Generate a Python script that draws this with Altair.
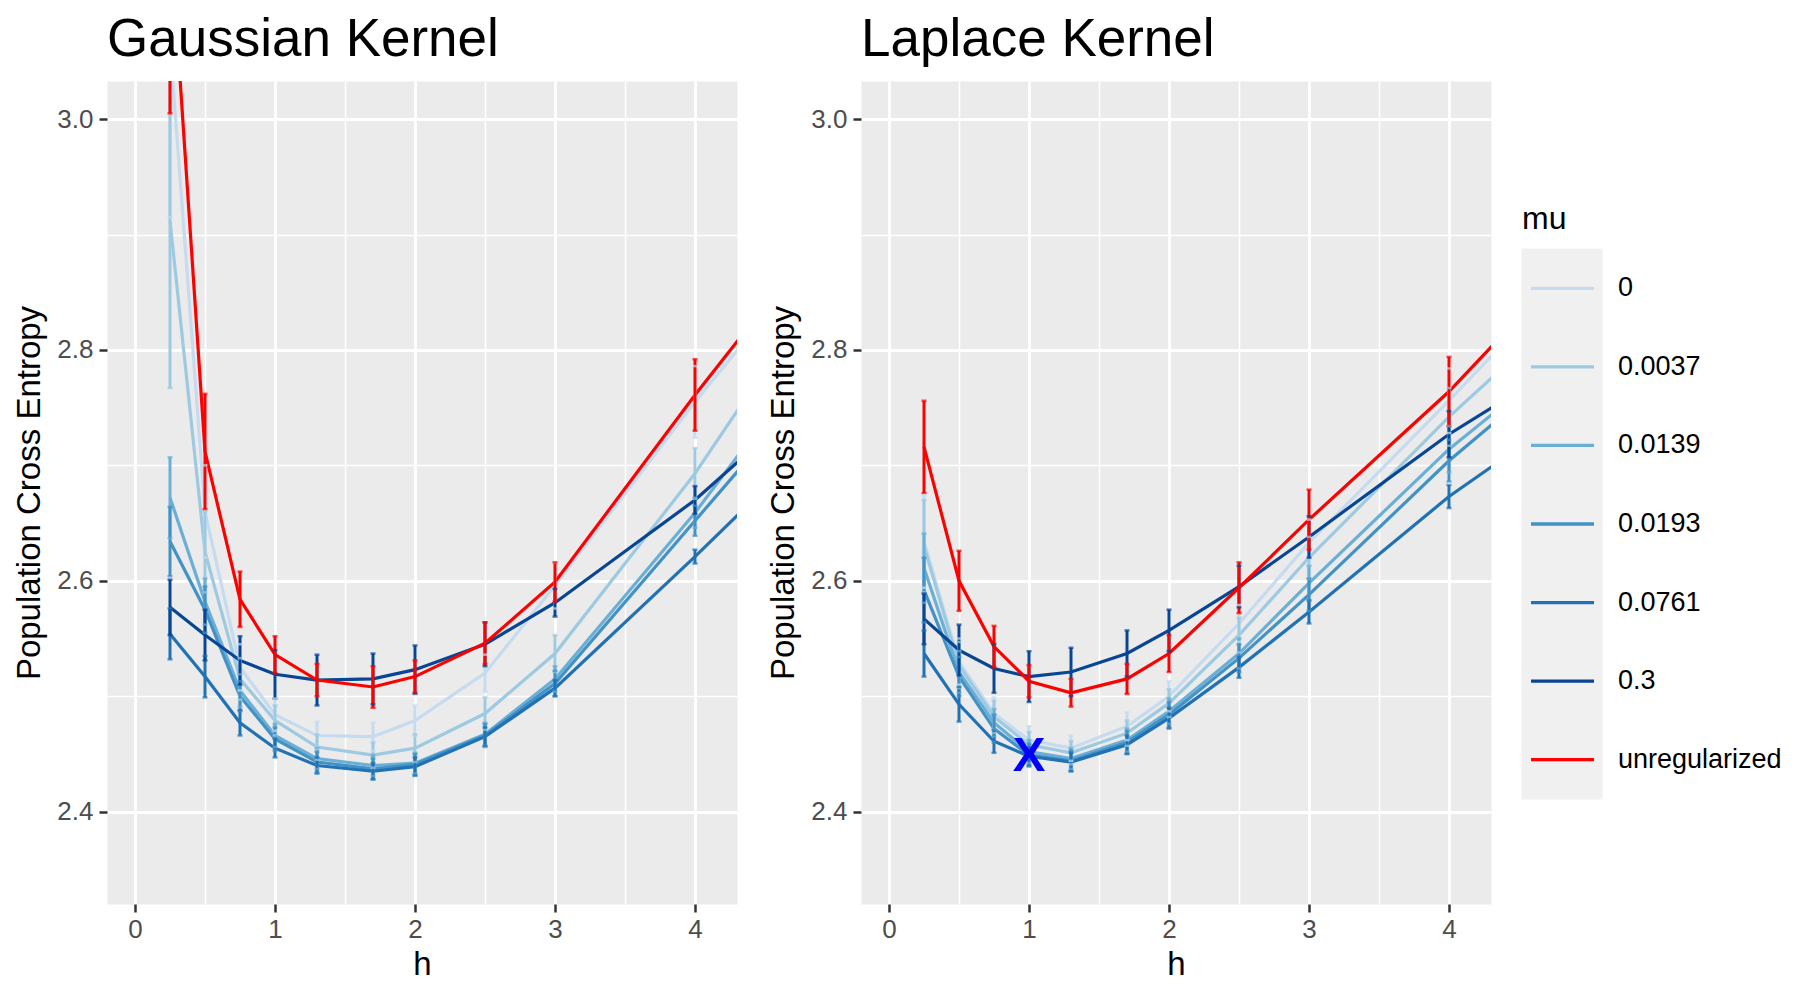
import altair as alt
import pandas as pd

# ---------------- data ----------------
H = [0.25, 0.5, 0.75, 1.0, 1.3, 1.7, 2.0, 2.5, 3.0, 4.0, 5.0]
MU = ["0", "0.0037", "0.0139", "0.0193", "0.0761", "0.3", "unregularized"]
COLORS = ["#c6dbef", "#9ecae1", "#6baed6", "#4292c6", "#2171b5", "#084594", "#ff0000"]

# Gaussian kernel: mean cross entropy per h
g_0 = [3.065, 2.660, 2.525, 2.484, 2.466, 2.465, 2.479, 2.520, 2.596, 2.755, 2.903]
g_0037 = [2.912, 2.625, 2.515, 2.479, 2.456, 2.449, 2.455, 2.485, 2.537, 2.693, 2.873]
g_0139 = [2.672, 2.582, 2.505, 2.466, 2.446, 2.440, 2.442, 2.467, 2.515, 2.659, 2.820]
g_0193 = [2.634, 2.575, 2.500, 2.463, 2.443, 2.437, 2.441, 2.466, 2.511, 2.652, 2.793]
g_0761 = [2.554, 2.517, 2.477, 2.455, 2.440, 2.435, 2.439, 2.465, 2.507, 2.621, 2.739]
g_3 = [2.577, 2.553, 2.531, 2.519, 2.514, 2.515, 2.523, 2.545, 2.581, 2.670, 2.778]
g_unreg = [3.165, 2.712, 2.584, 2.536, 2.514, 2.508, 2.517, 2.546, 2.599, 2.761, 2.915]

# Gaussian kernel: error bar half widths
ge_0 = [0.150, 0.040, 0.020, 0.014, 0.012, 0.012, 0.013, 0.016, 0.020, 0.031, 0.040]
ge_0037 = [0.145, 0.035, 0.018, 0.013, 0.011, 0.011, 0.012, 0.014, 0.016, 0.022, 0.035]
ge_0139 = [0.035, 0.020, 0.014, 0.010, 0.009, 0.009, 0.009, 0.010, 0.011, 0.013, 0.020]
ge_0193 = [0.030, 0.020, 0.013, 0.010, 0.009, 0.009, 0.009, 0.010, 0.011, 0.013, 0.018]
ge_0761 = [0.022, 0.018, 0.011, 0.008, 0.007, 0.007, 0.008, 0.008, 0.007, 0.006, 0.010]
ge_3 = [0.024, 0.022, 0.021, 0.021, 0.022, 0.022, 0.021, 0.019, 0.012, 0.012, 0.015]
ge_unreg = [0.160, 0.050, 0.024, 0.016, 0.014, 0.018, 0.014, 0.018, 0.017, 0.031, 0.040]

# Laplace kernel: mean cross entropy per h
l_0 = [2.634, 2.530, 2.485, 2.462, 2.455, 2.474, 2.500, 2.563, 2.633, 2.756, 2.884]
l_0037 = [2.630, 2.527, 2.482, 2.458, 2.451, 2.468, 2.494, 2.553, 2.620, 2.742, 2.853]
l_0139 = [2.611, 2.521, 2.477, 2.452, 2.446, 2.462, 2.487, 2.537, 2.598, 2.714, 2.812]
l_0193 = [2.592, 2.517, 2.472, 2.449, 2.444, 2.460, 2.484, 2.533, 2.588, 2.704, 2.806]
l_0761 = [2.537, 2.493, 2.461, 2.448, 2.443, 2.458, 2.481, 2.525, 2.573, 2.673, 2.758]
l_3 = [2.567, 2.540, 2.524, 2.517, 2.521, 2.537, 2.557, 2.595, 2.638, 2.727, 2.802]
l_unreg = [2.716, 2.600, 2.543, 2.513, 2.503, 2.515, 2.537, 2.594, 2.653, 2.764, 2.892]

# Laplace kernel: error bar half widths
le_0 = [0.040, 0.020, 0.014, 0.012, 0.011, 0.012, 0.013, 0.016, 0.020, 0.028, 0.035]
le_0037 = [0.040, 0.020, 0.014, 0.011, 0.010, 0.011, 0.012, 0.015, 0.018, 0.025, 0.030]
le_0139 = [0.030, 0.018, 0.012, 0.010, 0.009, 0.010, 0.011, 0.013, 0.015, 0.020, 0.025]
le_0193 = [0.028, 0.017, 0.012, 0.010, 0.009, 0.010, 0.011, 0.012, 0.014, 0.018, 0.022]
le_0761 = [0.020, 0.015, 0.010, 0.008, 0.008, 0.008, 0.009, 0.009, 0.010, 0.010, 0.012]
le_3 = [0.022, 0.022, 0.021, 0.022, 0.021, 0.020, 0.018, 0.018, 0.018, 0.020, 0.022]
le_unreg = [0.040, 0.026, 0.018, 0.014, 0.012, 0.013, 0.016, 0.022, 0.026, 0.030, 0.035]

# marker on the Laplace panel
marker_h = [1.0]
marker_v = [2.448]
marker_label = ["X"]

X_TICKS = [0, 0.5, 1, 1.5, 2, 2.5, 3, 3.5, 4]
Y_TICKS = [2.4, 2.5, 2.6, 2.7, 2.8, 2.9, 3.0]

FONT = "Liberation Sans"


def build(means, errs):
    rows = []
    for mu, m, e in zip(MU, means, errs):
        for h, v, s in zip(H, m, e):
            rows.append({"mu": mu, "h": h, "v": v, "lo": v - s, "hi": v + s})
    return pd.DataFrame(rows)


gauss_df = build([g_0, g_0037, g_0139, g_0193, g_0761, g_3, g_unreg],
                 [ge_0, ge_0037, ge_0139, ge_0193, ge_0761, ge_3, ge_unreg])
lap_df = build([l_0, l_0037, l_0139, l_0193, l_0761, l_3, l_unreg],
               [le_0, le_0037, le_0139, le_0193, le_0761, le_3, le_unreg])
marker_df = pd.DataFrame({"h": marker_h, "v": marker_v, "t": marker_label})

x_major = "datum.value % 1 === 0"
y_major = "round(datum.value * 10) % 2 === 0"

x_axis = alt.Axis(
    values=X_TICKS,
    format="~g",
    labelExpr=f"{x_major} ? datum.label : ''",
    grid=True,
    gridColor="#ffffff",
    gridWidth={"condition": {"test": x_major, "value": 2.8}, "value": 1.5},
    tickSize=8,
    tickWidth=2.5,
    tickColor="#333333",
    tickOpacity={"condition": {"test": x_major, "value": 1}, "value": 0},
    domain=False,
    labelFontSize=26,
    labelColor="#4d4d4d",
    labelPadding=4,
    labelFlush=False,
    titleFontSize=33,
    titleFontWeight="normal",
    titleColor="#000000",
    titlePadding=6,
)

y_axis = alt.Axis(
    values=Y_TICKS,
    format=".1f",
    labelExpr=f"{y_major} ? datum.label : ''",
    grid=True,
    gridColor="#ffffff",
    gridWidth={"condition": {"test": y_major, "value": 2.8}, "value": 1.5},
    tickSize=8,
    tickWidth=2.5,
    tickColor="#333333",
    tickOpacity={"condition": {"test": y_major, "value": 1}, "value": 0},
    domain=False,
    labelFontSize=26,
    labelColor="#4d4d4d",
    labelPadding=6,
    labelFlush=False,
    titleFontSize=33,
    titleFontWeight="normal",
    titleColor="#000000",
    titlePadding=10,
)

x_scale = alt.Scale(domain=[-0.2, 4.3], nice=False, zero=False)
y_scale = alt.Scale(domain=[2.32, 3.033], nice=False, zero=False)
color_scale = alt.Scale(domain=MU, range=COLORS)

PANEL_W = 630
PANEL_H = 823
TITLE_SIZE = 53
TITLE_OFFSET = 14


def panel(df, title, with_marker=False):
    base = alt.Chart(df)
    x = alt.X("h:Q", scale=x_scale, axis=x_axis, title="h")
    y = alt.Y("v:Q", scale=y_scale, axis=y_axis, title="Population Cross Entropy")
    color = alt.Color("mu:N", scale=color_scale, legend=None)
    xb = alt.X("h:Q", title="h")
    lines = base.mark_line(strokeWidth=3.2, clip=True).encode(x=x, y=y, color=color)
    bars = base.mark_rule(strokeWidth=3, clip=True).encode(
        x=xb, y=alt.Y("lo:Q", title="Population Cross Entropy"), y2="hi:Q", color=color
    )
    cap_lo = base.mark_tick(orient="horizontal", size=5, thickness=2.5, clip=True).encode(
        x=xb, y=alt.Y("lo:Q", title="Population Cross Entropy"), color=color
    )
    cap_hi = base.mark_tick(orient="horizontal", size=5, thickness=2.5, clip=True).encode(
        x=xb, y=alt.Y("hi:Q", title="Population Cross Entropy"), color=color
    )
    layers = [lines, bars, cap_lo, cap_hi]
    if with_marker:
        mk = alt.Chart(marker_df).mark_text(
            fontSize=49, fontWeight="bold", color="#0000ff", baseline="middle", align="center"
        ).encode(
            x=xb, y=alt.Y("v:Q", title="Population Cross Entropy"), text="t:N"
        )
        layers.append(mk)
    return alt.layer(*layers).properties(
        width=PANEL_W,
        height=PANEL_H,
        title=alt.TitleParams(
            text=title, anchor="start", frame="group", fontSize=TITLE_SIZE,
            fontWeight="normal", color="#000000", offset=TITLE_OFFSET,
        ),
        view=alt.ViewBackground(fill="#ebebeb", stroke="transparent"),
    )


gauss = panel(gauss_df, "Gaussian Kernel")
lap = panel(lap_df, "Laplace Kernel", with_marker=True)

# ---------------- custom legend ----------------
leg_df = pd.DataFrame({"mu": MU})
leg_title_df = pd.DataFrame({"t": ["mu"]})
yl = alt.Y("mu:N", sort=MU,
           scale=alt.Scale(domain=MU, range=[168, 718], paddingInner=0, paddingOuter=0),
           axis=None)
leg_bg = alt.Chart(leg_df).mark_rect(color="#f0f0f0", stroke="#f0f0f0", strokeWidth=1).encode(
    y=yl, x=alt.value(0), x2=alt.value(80)
)
leg_keys = alt.Chart(leg_df).mark_rule(strokeWidth=3.3).encode(
    y=yl, x=alt.value(9), x2=alt.value(72),
    color=alt.Color("mu:N", scale=color_scale, legend=None),
)
leg_labels = alt.Chart(leg_df).mark_text(
    align="left", baseline="middle", fontSize=27, color="#000000"
).encode(y=yl, x=alt.value(96), text="mu:N")
leg_title = alt.Chart(leg_title_df).mark_text(
    align="left", baseline="middle", fontSize=32, color="#000000"
).encode(x=alt.value(0), y=alt.value(138), text="t:N")

legend = alt.layer(leg_bg, leg_keys, leg_labels, leg_title).properties(
    width=262,
    height=PANEL_H,
    title=alt.TitleParams(
        text=" ", anchor="start", frame="group", fontSize=TITLE_SIZE,
        fontWeight="normal", offset=TITLE_OFFSET
    ),
    view=alt.ViewBackground(fill="#ffffff", stroke="transparent"),
)

chart = alt.hconcat(gauss, lap, legend, spacing=29).configure(
    font=FONT, background="#ffffff"
).configure_view(stroke="transparent")

chart.save("out.html", embed_options={"renderer": "svg", "actions": False})
